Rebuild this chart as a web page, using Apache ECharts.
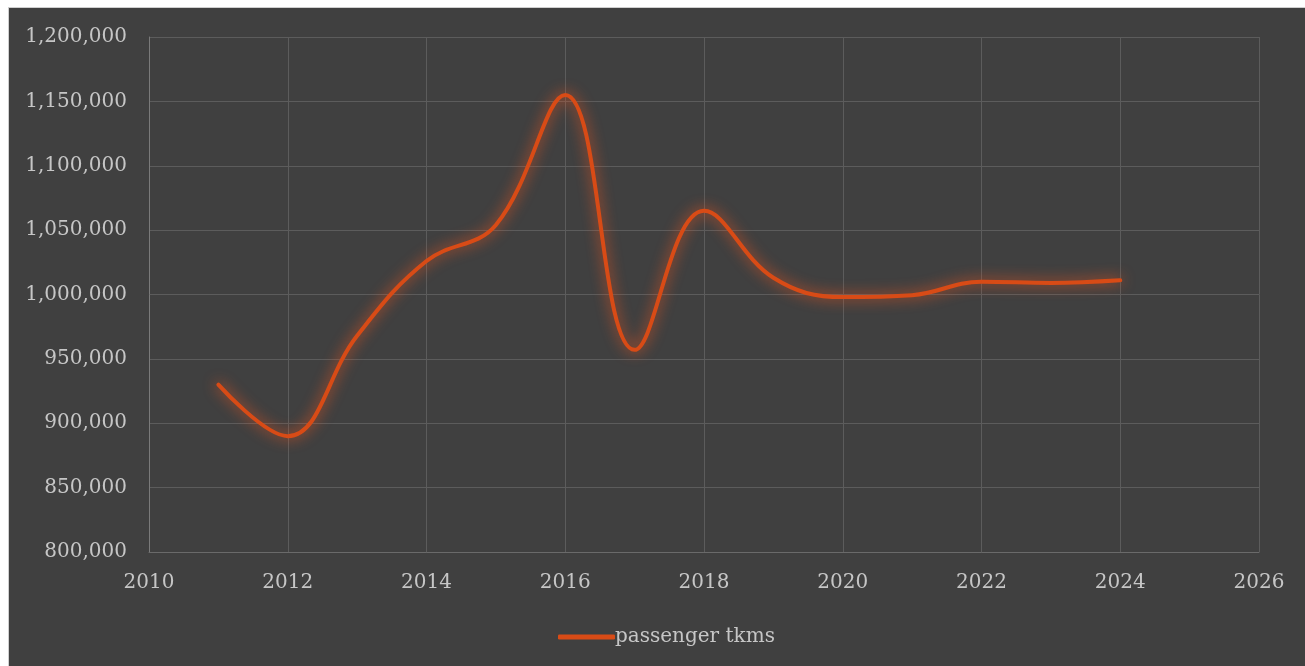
<!DOCTYPE html>
<html>
<head>
<meta charset="utf-8">
<script src="https://cdn.jsdelivr.net/npm/echarts@6/dist/echarts.min.js"></script>
<style>
  html, body { margin: 0; padding: 0; background: #ffffff; }
  #frame {
    position: absolute; left: 8px; top: 7px; right: 0; bottom: 0;
    background: #404040;
    border-left: 1px solid #cfcfcf; border-top: 1px solid #cfcfcf;
  }
  #chart { position: absolute; left: 0; top: 0; width: 1305px; height: 666px; }
</style>
</head>
<body>
<div id="frame"></div>
<div id="chart"></div>
<script>
'use strict';

var years = [2011, 2012, 2013, 2014, 2015, 2016, 2017, 2018, 2019, 2020, 2021, 2022, 2023, 2024];
var passengerTkms = [930000, 890000, 968000, 1026000, 1054000, 1155000, 957000, 1065000, 1013000, 998000, 999500, 1010000, 1009000, 1011000];
var seriesName = 'passenger tkms';

var xMin = 2010, xMax = 2026, xStep = 2;
var yMin = 800000, yMax = 1200000, yStep = 50000;

(function() {
  var chart = echarts.init(document.getElementById('chart'), null, { renderer: 'canvas' });

  var points = years.map(function(y, i) { return [y, passengerTkms[i]]; });

  var textColor = '#c6c6c6';
  var gridColor = '#5c5c5c';
  var lineColor = '#d84b16';
  var font = 'DejaVu Serif';

  chart.setOption({
    backgroundColor: 'transparent',
    animation: false,
    grid: { left: 149, top: 37, right: 46, bottom: 114, containLabel: false },
    xAxis: {
      type: 'value',
      min: xMin, max: xMax, interval: xStep,
      axisLine: { show: true, lineStyle: { color: '#6a6a6a', width: 1 } },
      axisTick: { show: false },
      axisLabel: { color: textColor, fontFamily: font, fontSize: 20, margin: 21, formatter: function(v) { return String(v); } },
      splitLine: { show: true, lineStyle: { color: gridColor, width: 1 } }
    },
    yAxis: {
      type: 'value',
      min: yMin, max: yMax, interval: yStep,
      axisLine: { show: true, lineStyle: { color: '#7a7a7a', width: 1 } },
      axisTick: { show: false },
      axisLabel: {
        color: textColor, fontFamily: font, fontSize: 20, margin: 22,
        formatter: function(v) { return v.toLocaleString('en-US'); }
      },
      splitLine: { show: true, lineStyle: { color: gridColor, width: 1 } }
    },
    legend: {
      left: 553, top: 622,
      itemWidth: 57, itemHeight: 5, itemGap: 10,
      icon: 'roundRect',
      textStyle: { color: textColor, fontFamily: font, fontSize: 20, padding: [0, 0, 0, -5] },
      data: [seriesName]
    },
    series: [{
      name: seriesName,
      type: 'line',
      data: points,
      smooth: 0.4,
      showSymbol: false,
      symbol: 'none',
      itemStyle: { color: lineColor },
      lineStyle: {
        color: lineColor, width: 4, cap: 'round', join: 'round',
        shadowColor: 'rgba(240, 85, 30, 1)', shadowBlur: 14
      }
    }]
  });
})();
</script>
</body>
</html>
